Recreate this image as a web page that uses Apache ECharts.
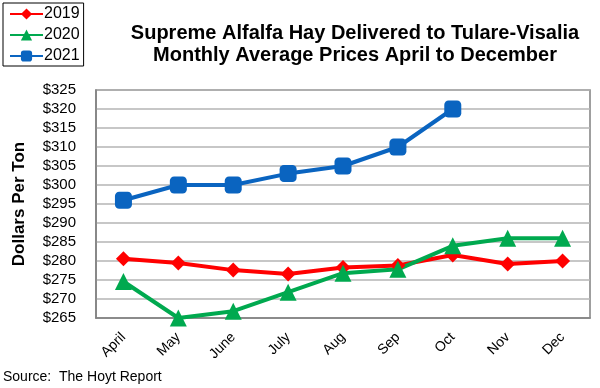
<!DOCTYPE html>
<html><head><meta charset="utf-8">
<script src="https://cdn.jsdelivr.net/npm/echarts@6/dist/echarts.min.js"></script>
<style>html,body{margin:0;padding:0;background:#fff}#c{width:600px;height:388px}</style>
</head><body><div id="c"></div>
<script>
const months = ['April','May','June','July','Aug','Sep','Oct','Nov','Dec'];
const y2019 = [280.6, 279.5, 277.6, 276.6, 278.3, 278.8, 281.6, 279.2, 280.0];
const y2020 = [274.6, 265, 266.8, 271.8, 276.8, 277.8, 284, 286, 286];
const y2021 = [296, 300, 300, 303, 305, 310, 320, null, null];
const yTicks = [265,270,275,280,285,290,295,300,305,310,315,320,325];

const chart = echarts.init(document.getElementById('c'));
const font = 'Liberation Sans, Arial, sans-serif';
chart.setOption({
  animation: false,
  title: {
    text: 'Supreme Alfalfa Hay Delivered to Tulare-Visalia\nMonthly Average Prices April to December',
    left: 350, top: 17, textAlign: 'center',
    textStyle: {fontFamily: font, fontSize: 20, fontWeight: 'bold', color: '#000', lineHeight: 22, align: 'center'}
  },
  legend: {
    orient: 'vertical', left: 3, top: 3,
    borderColor: '#000', borderWidth: 1, padding: [3, 4, 2, 6],
    itemWidth: 33, itemHeight: 14, itemGap: 5,
    textStyle: {fontFamily: font, fontSize: 16, color: '#000', padding: [0,0,0,-4]},
    data: ['2019','2020','2021']
  },
  grid: {left: 96, right: 10, top: 90, bottom: 70, show: true, borderColor: '#808080', borderWidth: 1.5},
  xAxis: {
    type: 'category', data: months, boundaryGap: true,
    axisLine: {lineStyle: {color: '#808080', width: 1.5}},
    axisTick: {alignWithLabel: true, length: 5, lineStyle: {color: '#808080'}},
    axisLabel: {rotate: 45, fontFamily: font, fontSize: 14, color: '#000', margin: 17}
  },
  yAxis: {
    type: 'value', min: 265, max: 325, interval: 5,
    name: 'Dollars Per Ton', nameLocation: 'middle', nameGap: 68, nameRotate: 90,
    nameTextStyle: {fontFamily: font, fontSize: 17, fontWeight: 'bold', color: '#000'},
    axisLine: {show: true, lineStyle: {color: '#808080', width: 1.5}},
    axisTick: {show: false},
    splitLine: {lineStyle: {color: '#b4b4b4', width: 1.5}},
    axisLabel: {fontFamily: font, fontSize: 15, color: '#000', margin: 20,
      formatter: v => yTicks.includes(v) ? '$' + v : ''}
  },
  series: [
    {name: '2019', type: 'line', data: y2019, symbol: 'diamond', symbolSize: 15,
      lineStyle: {color: '#ff0000', width: 4}, itemStyle: {color: '#ff0000'}},
    {name: '2020', type: 'line', data: y2020, symbol: 'triangle', symbolSize: 17,
      lineStyle: {color: '#00a94f', width: 4}, itemStyle: {color: '#00a94f'}},
    {name: '2021', type: 'line', data: y2021, symbol: 'roundRect', symbolSize: 17,
      lineStyle: {color: '#0a64c0', width: 4}, itemStyle: {color: '#0a64c0'}}
  ],
  graphic: [{type: 'text', left: 3, top: 370,
    style: {text: 'Source:  The Hoyt Report', fontFamily: font, fontSize: 14, fill: '#000'}}]
});
</script></body></html>
